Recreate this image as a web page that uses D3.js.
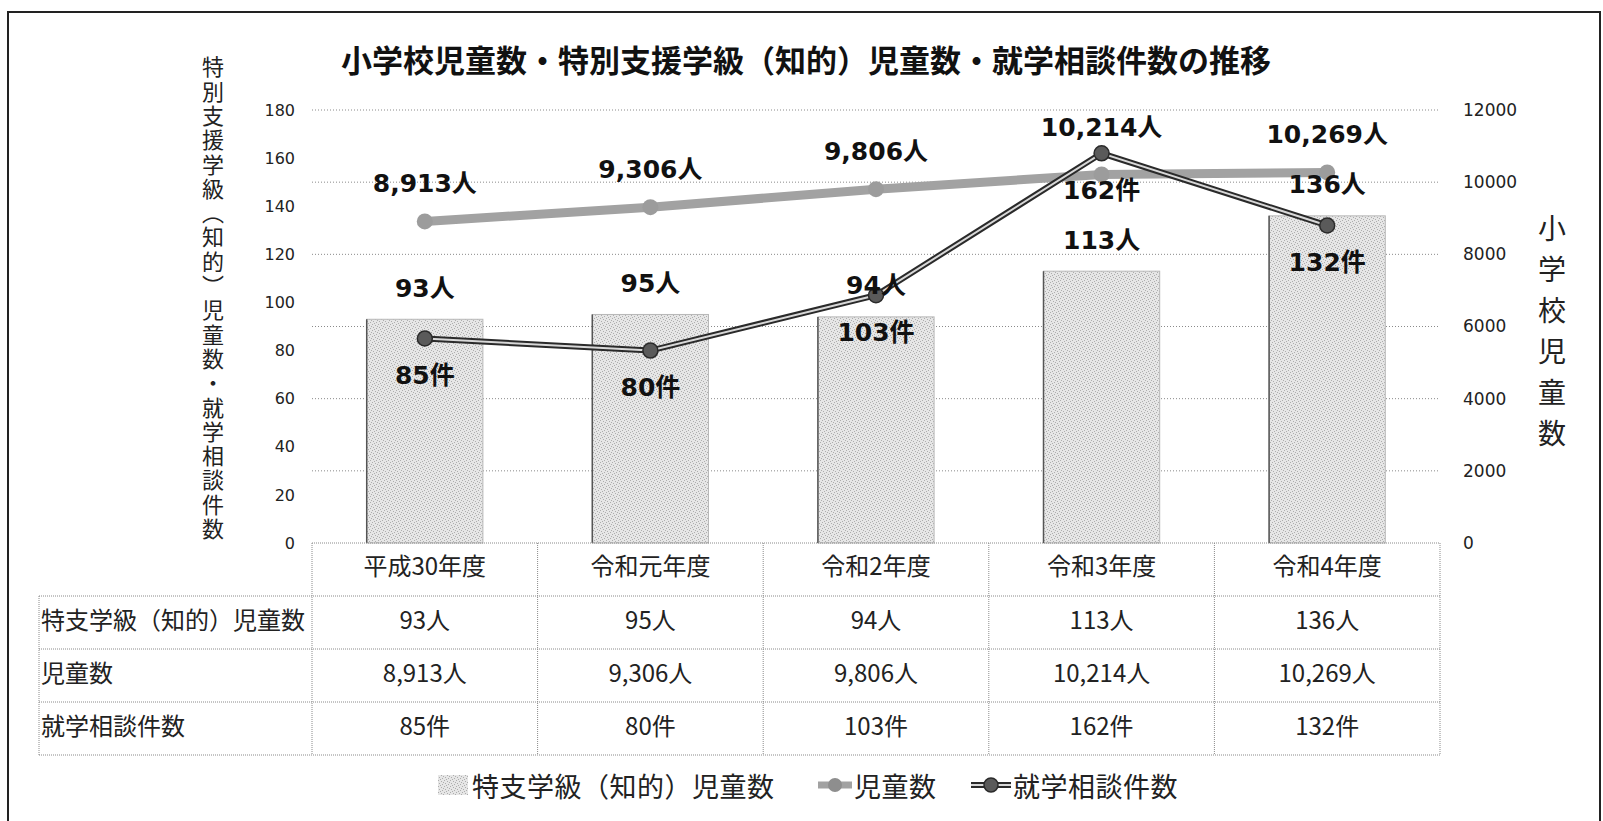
<!DOCTYPE html>
<html>
<head>
<meta charset="utf-8">
<script src="https://cdn.jsdelivr.net/npm/d3@7"></script>
<style>
  body { margin: 0; background: #fff; }
  svg { display: block; }
</style>
</head>
<body>
<div id="chart"></div>
<script>
// data
const years = ["平成30年度", "令和元年度", "令和2年度", "令和3年度", "令和4年度"];
const specialClass = [93, 95, 94, 113, 136];      // 特支学級（知的）児童数 (left axis, bars)
const pupils = [8913, 9306, 9806, 10214, 10269];  // 児童数 (right axis, line)
const consults = [85, 80, 103, 162, 132];         // 就学相談件数 (left axis, line)
const leftTicks = [0, 20, 40, 60, 80, 100, 120, 140, 160, 180];
const rightTicks = [0, 2000, 4000, 6000, 8000, 10000, 12000];
const rowLabels = ["特支学級（知的）児童数", "児童数", "就学相談件数"];
const seriesNames = ["特支学級（知的）児童数", "児童数", "就学相談件数"];

const title = "小学校児童数・特別支援学級（知的）児童数・就学相談件数の推移";
const leftTitle = "特別支援学級（知的）児童数・就学相談件数";
const rightTitle = "小学校児童数";

(function () {
  const W = 1603, H = 821;
  const plot = { left: 312, right: 1440, top: 110, bottom: 543 };
  const rowH = 53;
  const tableLeft = 39;

  const latin = "'DejaVu Sans', 'Noto Sans CJK JP', sans-serif";
  const cjk = "'Noto Sans CJK JP', sans-serif";
  const fmt = d3.format(",");

  const svg = d3.select("#chart").append("svg")
    .attr("width", W).attr("height", H)
    .attr("viewBox", `0 0 ${W} ${H}`);

  // stipple texture for the bars
  const defs = svg.append("defs");
  const pat = defs.append("pattern")
    .attr("id", "stipple")
    .attr("patternUnits", "userSpaceOnUse")
    .attr("width", 6).attr("height", 6);
  pat.append("rect").attr("width", 6).attr("height", 6).attr("fill", "#e6e6e6");
  [[0, 0], [3, 1], [1, 3], [4, 4], [5, 2], [2, 5]].forEach(([px, py]) => {
    pat.append("rect").attr("x", px).attr("y", py).attr("width", 1).attr("height", 1).attr("fill", "#adadad");
  });

  const x = d3.scaleBand().domain(years).range([plot.left, plot.right]);
  const yL = d3.scaleLinear().domain([0, 180]).range([plot.bottom, plot.top]);
  const yR = d3.scaleLinear().domain([0, 12000]).range([plot.bottom, plot.top]);
  const cx = (d) => x(d) + x.bandwidth() / 2;

  // outer frame
  svg.append("path")
    .attr("d", `M8,${H}V12H1600V${H}`)
    .attr("fill", "none")
    .attr("stroke", "#222")
    .attr("stroke-width", 2);

  // title
  svg.append("text")
    .attr("x", 806).attr("y", 58)
    .attr("text-anchor", "middle")
    .attr("dominant-baseline", "central")
    .style("font-family", cjk)
    .style("font-size", "31px")
    .style("font-weight", "bold")
    .attr("fill", "#111")
    .text(title);

  // gridlines (aligned with the right axis)
  svg.append("g").selectAll("line")
    .data(rightTicks.filter((t) => t > 0))
    .join("line")
    .attr("x1", plot.left).attr("x2", plot.right)
    .attr("y1", (d) => yR(d)).attr("y2", (d) => yR(d))
    .attr("stroke", "#8a8a8a")
    .attr("stroke-width", 1)
    .attr("stroke-dasharray", "1,2");

  // left axis
  const yAxisL = d3.axisLeft(yL).tickValues(leftTicks).tickSize(0).tickPadding(0);
  const gL = svg.append("g").attr("transform", `translate(295,0)`).call(yAxisL);
  gL.select(".domain").remove();
  gL.selectAll(".tick text")
    .style("font-family", latin).style("font-size", "16px").attr("fill", "#222");

  // right axis
  const yAxisR = d3.axisRight(yR).tickValues(rightTicks).tickFormat(d3.format("d"))
    .tickSize(0).tickPadding(0);
  const gR = svg.append("g").attr("transform", `translate(1463,0)`).call(yAxisR);
  gR.select(".domain").remove();
  gR.selectAll(".tick text")
    .style("font-family", latin).style("font-size", "17px").attr("fill", "#222");

  // axis titles (vertical)
  svg.append("text")
    .attr("x", 213).attr("y", 56)
    .style("writing-mode", "vertical-rl")
    .style("font-family", cjk)
    .style("font-size", "22px")
    .style("letter-spacing", "2.3px")
    .attr("fill", "#222")
    .text(leftTitle);

  svg.append("text")
    .attr("x", 1552).attr("y", 214)
    .style("writing-mode", "vertical-rl")
    .style("font-family", cjk)
    .style("font-size", "28px")
    .style("letter-spacing", "13px")
    .attr("fill", "#222")
    .text(rightTitle);

  // bars
  const barW = x.bandwidth() * 0.515;
  const bars = svg.append("g");
  bars.selectAll("rect")
    .data(specialClass)
    .join("rect")
    .attr("x", (d, i) => cx(years[i]) - barW / 2)
    .attr("y", (d) => yL(d))
    .attr("width", barW)
    .attr("height", (d) => yL(0) - yL(d))
    .attr("fill", "url(#stipple)")
    .attr("stroke", "#b8b8b8")
    .attr("stroke-width", 1);
  bars.selectAll("line")
    .data(specialClass)
    .join("line")
    .attr("x1", (d, i) => cx(years[i]) - barW / 2)
    .attr("x2", (d, i) => cx(years[i]) - barW / 2)
    .attr("y1", (d) => yL(d)).attr("y2", yL(0))
    .attr("stroke", "#555").attr("stroke-width", 1.5);

  // 児童数 line (right axis)
  const linePupils = d3.line().x((d, i) => cx(years[i])).y((d) => yR(d));
  svg.append("path")
    .datum(pupils)
    .attr("d", linePupils)
    .attr("fill", "none")
    .attr("stroke", "#a2a2a2")
    .attr("stroke-width", 9)
    .attr("stroke-linecap", "round");
  svg.append("g").selectAll("circle")
    .data(pupils)
    .join("circle")
    .attr("cx", (d, i) => cx(years[i]))
    .attr("cy", (d) => yR(d))
    .attr("r", 8)
    .attr("fill", "#9c9c9c");

  // 就学相談件数 line (left axis), double stroke
  const lineConsult = d3.line().x((d, i) => cx(years[i])).y((d) => yL(d));
  svg.append("path")
    .datum(consults)
    .attr("d", lineConsult)
    .attr("fill", "none")
    .attr("stroke", "#2a2a2a")
    .attr("stroke-width", 6);
  svg.append("path")
    .datum(consults)
    .attr("d", lineConsult)
    .attr("fill", "none")
    .attr("stroke", "#d8d8d8")
    .attr("stroke-width", 2);
  svg.append("g").selectAll("circle")
    .data(consults)
    .join("circle")
    .attr("cx", (d, i) => cx(years[i]))
    .attr("cy", (d) => yL(d))
    .attr("r", 7.5)
    .attr("fill", "#5a5a5a")
    .attr("stroke", "#2a2a2a")
    .attr("stroke-width", 1.5);

  // data labels
  const labelStyle = (sel) => sel
    .attr("text-anchor", "middle")
    .attr("dominant-baseline", "central")
    .style("font-family", latin)
    .style("font-size", "25px")
    .style("font-weight", "bold")
    .attr("fill", "#111");

  svg.append("g").selectAll("text")
    .data(pupils)
    .join("text")
    .attr("x", (d, i) => cx(years[i]))
    // lift the label above the consult marker when they meet
    .attr("y", (d, i) => Math.min(yR(d) - 38, yL(consults[i]) - 26))
    .call(labelStyle)
    .text((d) => fmt(d) + "人");

  svg.append("g").selectAll("text")
    .data(specialClass)
    .join("text")
    .attr("x", (d, i) => cx(years[i]))
    .attr("y", (d) => yL(d) - 31)
    .call(labelStyle)
    .text((d) => d + "人");

  svg.append("g").selectAll("text")
    .data(consults)
    .join("text")
    .attr("x", (d, i) => cx(years[i]))
    .attr("y", (d) => yL(d) + 37)
    .call(labelStyle)
    .text((d) => d + "件");

  // data table
  const table = svg.append("g");
  const tableBottom = plot.bottom + rowH * 4;
  const lineStyle = (sel) => sel
    .attr("stroke", "#8a8a8a")
    .attr("stroke-width", 1)
    .attr("stroke-dasharray", "1,1");

  table.append("line")
    .attr("x1", plot.left).attr("x2", plot.right)
    .attr("y1", plot.bottom).attr("y2", plot.bottom)
    .call(lineStyle);
  [1, 2, 3, 4].forEach((r) => {
    table.append("line")
      .attr("x1", tableLeft).attr("x2", plot.right)
      .attr("y1", plot.bottom + rowH * r).attr("y2", plot.bottom + rowH * r)
      .call(lineStyle);
  });
  table.append("line")
    .attr("x1", tableLeft).attr("x2", tableLeft)
    .attr("y1", plot.bottom + rowH).attr("y2", tableBottom)
    .call(lineStyle);
  years.concat(["end"]).forEach((yr, i) => {
    const xx = i < years.length ? x(yr) : plot.right;
    table.append("line")
      .attr("x1", xx).attr("x2", xx)
      .attr("y1", plot.bottom).attr("y2", tableBottom)
      .call(lineStyle);
  });

  const cellStyle = (sel) => sel
    .attr("dominant-baseline", "central")
    .style("font-family", cjk)
    .style("font-size", "24px")
    .attr("fill", "#222");

  table.append("g").selectAll("text")
    .data(years)
    .join("text")
    .attr("x", (d) => cx(d))
    .attr("y", plot.bottom + rowH / 2 - 5)
    .attr("text-anchor", "middle")
    .call(cellStyle)
    .text((d) => d);

  const rows = [
    specialClass.map((v) => v + "人"),
    pupils.map((v) => fmt(v) + "人"),
    consults.map((v) => v + "件"),
  ];
  rows.forEach((vals, r) => {
    const yy = plot.bottom + rowH * (r + 1) + rowH / 2 - 4;
    table.append("text")
      .attr("x", tableLeft + 2).attr("y", yy)
      .call(cellStyle)
      .text(rowLabels[r]);
    table.append("g").selectAll("text")
      .data(vals)
      .join("text")
      .attr("x", (d, i) => cx(years[i]))
      .attr("y", yy)
      .attr("text-anchor", "middle")
      .call(cellStyle)
      .text((d) => d);
  });

  // legend
  const legY = 785;
  const leg = svg.append("g");
  const legText = (sel) => sel
    .attr("dominant-baseline", "central")
    .style("font-family", cjk)
    .style("font-size", "27px")
    .style("letter-spacing", "0.5px")
    .attr("fill", "#222");

  leg.append("rect")
    .attr("x", 438).attr("y", legY - 10)
    .attr("width", 30).attr("height", 20)
    .attr("fill", "url(#stipple)");
  leg.append("text").attr("x", 472).attr("y", legY).call(legText).text(seriesNames[0]);

  leg.append("line")
    .attr("x1", 818).attr("x2", 852).attr("y1", legY).attr("y2", legY)
    .attr("stroke", "#a2a2a2").attr("stroke-width", 7);
  leg.append("circle").attr("cx", 835).attr("cy", legY).attr("r", 7).attr("fill", "#8e8e8e");
  leg.append("text").attr("x", 854).attr("y", legY).call(legText).text(seriesNames[1]);

  leg.append("line")
    .attr("x1", 971).attr("x2", 1011).attr("y1", legY).attr("y2", legY)
    .attr("stroke", "#2a2a2a").attr("stroke-width", 6);
  leg.append("line")
    .attr("x1", 971).attr("x2", 1011).attr("y1", legY).attr("y2", legY)
    .attr("stroke", "#d8d8d8").attr("stroke-width", 2);
  leg.append("circle").attr("cx", 991).attr("cy", legY).attr("r", 7)
    .attr("fill", "#5a5a5a").attr("stroke", "#2a2a2a").attr("stroke-width", 1.5);
  leg.append("text").attr("x", 1013).attr("y", legY).call(legText).text(seriesNames[2]);
})();
</script>
</body>
</html>
